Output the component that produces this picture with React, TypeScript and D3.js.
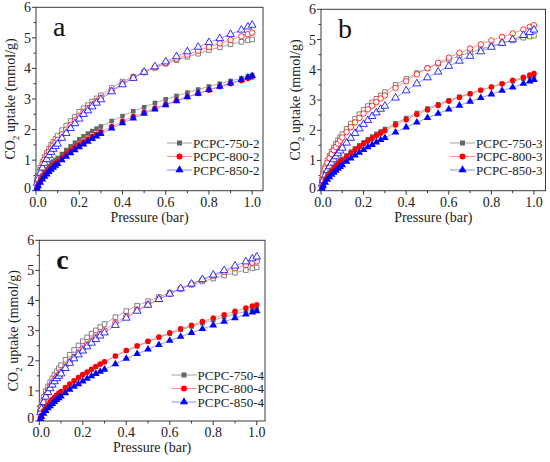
import * as d3 from "d3";

// pressure points (bar), shared by every isotherm
const pressure = [
  0.005, 0.01, 0.02, 0.03, 0.04, 0.05, 0.06, 0.07, 0.08, 0.09, 0.1, 0.12, 0.14, 0.16, 0.18, 0.2,
  0.22, 0.24, 0.26, 0.28, 0.3, 0.35, 0.4, 0.45, 0.5, 0.55, 0.6, 0.65, 0.7, 0.75, 0.8, 0.85, 0.9,
  0.95, 0.98, 1.0,
];

// panel a : upper (open) and lower (filled) isotherms
const a750open = [0.35, 0.5, 0.75, 0.95, 1.1, 1.25, 1.38, 1.5, 1.6, 1.7, 1.8, 1.98, 2.13, 2.28, 2.42, 2.58, 2.7, 2.8, 2.92, 3.02, 3.12, 3.36, 3.57, 3.73, 3.88, 4.02, 4.15, 4.27, 4.38, 4.48, 4.6, 4.69, 4.79, 4.87, 4.92, 4.95];
const a800open = [0.3, 0.45, 0.68, 0.87, 1.02, 1.15, 1.27, 1.38, 1.48, 1.57, 1.66, 1.84, 2.0, 2.15, 2.3, 2.45, 2.58, 2.7, 2.82, 2.93, 3.04, 3.28, 3.5, 3.7, 3.87, 4.03, 4.18, 4.32, 4.45, 4.58, 4.7, 4.82, 4.93, 5.05, 5.12, 5.17];
const a850open = [0.25, 0.38, 0.58, 0.75, 0.9, 1.03, 1.15, 1.26, 1.36, 1.45, 1.53, 1.72, 1.88, 2.04, 2.2, 2.35, 2.5, 2.62, 2.75, 2.87, 2.98, 3.24, 3.47, 3.68, 3.88, 4.06, 4.22, 4.39, 4.55, 4.7, 4.85, 4.98, 5.12, 5.26, 5.36, 5.42];
const a750fill = [0.12, 0.22, 0.38, 0.5, 0.6, 0.7, 0.79, 0.87, 0.95, 1.0, 1.07, 1.2, 1.33, 1.45, 1.57, 1.68, 1.78, 1.87, 1.95, 2.03, 2.1, 2.28, 2.44, 2.6, 2.73, 2.87, 2.99, 3.1, 3.21, 3.31, 3.41, 3.5, 3.59, 3.68, 3.74, 3.78];
const a800fill = [0.1, 0.18, 0.32, 0.42, 0.52, 0.6, 0.68, 0.76, 0.83, 0.89, 0.95, 1.08, 1.2, 1.31, 1.41, 1.51, 1.6, 1.69, 1.77, 1.85, 1.93, 2.1, 2.27, 2.43, 2.57, 2.7, 2.83, 2.95, 3.07, 3.18, 3.29, 3.4, 3.5, 3.6, 3.67, 3.72];
const a850fill = [0.08, 0.15, 0.27, 0.37, 0.46, 0.54, 0.62, 0.69, 0.76, 0.82, 0.88, 1.0, 1.12, 1.23, 1.33, 1.43, 1.52, 1.61, 1.7, 1.78, 1.86, 2.04, 2.21, 2.37, 2.52, 2.66, 2.8, 2.93, 3.06, 3.18, 3.3, 3.41, 3.52, 3.63, 3.71, 3.76];

// panel b
const b750open = [0.38, 0.55, 0.8, 1.0, 1.16, 1.3, 1.43, 1.55, 1.67, 1.77, 1.87, 2.05, 2.22, 2.38, 2.53, 2.67, 2.8, 2.92, 3.04, 3.15, 3.26, 3.5, 3.7, 3.89, 4.05, 4.2, 4.33, 4.46, 4.57, 4.68, 4.78, 4.88, 4.97, 5.06, 5.1, 5.13];
const b800open = [0.33, 0.5, 0.73, 0.92, 1.08, 1.21, 1.34, 1.45, 1.56, 1.66, 1.76, 1.94, 2.1, 2.26, 2.41, 2.55, 2.69, 2.81, 2.93, 3.05, 3.15, 3.4, 3.62, 3.85, 4.05, 4.23, 4.4, 4.56, 4.7, 4.84, 4.97, 5.09, 5.2, 5.33, 5.42, 5.47];
const b850open = [0.22, 0.34, 0.52, 0.67, 0.8, 0.92, 1.03, 1.13, 1.23, 1.32, 1.41, 1.58, 1.74, 1.9, 2.05, 2.2, 2.33, 2.46, 2.58, 2.7, 2.8, 3.07, 3.31, 3.54, 3.74, 3.93, 4.12, 4.29, 4.45, 4.6, 4.75, 4.88, 5.0, 5.14, 5.24, 5.32];
const b750fill = [0.12, 0.22, 0.38, 0.5, 0.6, 0.69, 0.78, 0.86, 0.93, 0.99, 1.05, 1.17, 1.29, 1.4, 1.5, 1.6, 1.7, 1.79, 1.88, 1.96, 2.04, 2.23, 2.4, 2.57, 2.72, 2.86, 2.99, 3.11, 3.22, 3.33, 3.43, 3.53, 3.62, 3.71, 3.77, 3.81];
const b800fill = [0.1, 0.19, 0.33, 0.45, 0.55, 0.64, 0.72, 0.8, 0.87, 0.94, 1.0, 1.12, 1.24, 1.35, 1.45, 1.55, 1.64, 1.73, 1.82, 1.9, 1.98, 2.17, 2.35, 2.52, 2.67, 2.82, 2.96, 3.08, 3.2, 3.32, 3.43, 3.54, 3.65, 3.75, 3.83, 3.88];
const b850fill = [0.08, 0.15, 0.27, 0.37, 0.45, 0.53, 0.6, 0.67, 0.73, 0.79, 0.85, 0.96, 1.07, 1.17, 1.26, 1.35, 1.44, 1.52, 1.6, 1.68, 1.75, 1.93, 2.1, 2.26, 2.41, 2.55, 2.69, 2.82, 2.95, 3.07, 3.19, 3.31, 3.42, 3.54, 3.62, 3.67];

// panel c
const c750open = [0.4, 0.55, 0.8, 0.99, 1.15, 1.29, 1.42, 1.54, 1.65, 1.75, 1.85, 2.03, 2.2, 2.36, 2.51, 2.65, 2.78, 2.9, 3.01, 3.12, 3.22, 3.45, 3.65, 3.83, 3.98, 4.12, 4.26, 4.39, 4.52, 4.63, 4.73, 4.83, 4.92, 5.01, 5.07, 5.1];
const c800open = [0.33, 0.47, 0.7, 0.87, 1.02, 1.15, 1.27, 1.38, 1.48, 1.55, 1.63, 1.81, 1.97, 2.12, 2.27, 2.41, 2.54, 2.67, 2.79, 2.9, 3.01, 3.26, 3.48, 3.69, 3.87, 4.05, 4.22, 4.39, 4.55, 4.69, 4.82, 4.95, 5.07, 5.18, 5.25, 5.3];
const c850open = [0.28, 0.4, 0.62, 0.8, 0.95, 1.08, 1.2, 1.31, 1.41, 1.49, 1.57, 1.75, 1.92, 2.07, 2.2, 2.33, 2.47, 2.59, 2.71, 2.83, 2.93, 3.18, 3.42, 3.65, 3.85, 4.04, 4.22, 4.4, 4.55, 4.7, 4.85, 5.0, 5.15, 5.29, 5.39, 5.45];
const c750fill = [0.1, 0.19, 0.33, 0.44, 0.54, 0.62, 0.7, 0.78, 0.85, 0.91, 0.97, 1.1, 1.22, 1.33, 1.43, 1.53, 1.62, 1.71, 1.8, 1.88, 1.96, 2.15, 2.33, 2.48, 2.63, 2.77, 2.9, 3.03, 3.14, 3.25, 3.35, 3.45, 3.55, 3.64, 3.69, 3.72];
const c800fill = [0.1, 0.19, 0.33, 0.44, 0.54, 0.63, 0.71, 0.79, 0.86, 0.92, 0.98, 1.11, 1.23, 1.34, 1.44, 1.54, 1.63, 1.72, 1.81, 1.89, 1.97, 2.16, 2.34, 2.5, 2.65, 2.79, 2.93, 3.06, 3.18, 3.3, 3.42, 3.53, 3.64, 3.75, 3.82, 3.86];
const c850fill = [0.07, 0.14, 0.25, 0.34, 0.43, 0.5, 0.57, 0.64, 0.7, 0.76, 0.82, 0.93, 1.04, 1.14, 1.23, 1.32, 1.41, 1.49, 1.57, 1.64, 1.71, 1.89, 2.07, 2.23, 2.38, 2.53, 2.67, 2.8, 2.93, 3.06, 3.18, 3.3, 3.42, 3.54, 3.61, 3.65];

const xTicks = [0, 0.2, 0.4, 0.6, 0.8, 1.0];
const yTicks = [0, 1, 2, 3, 4, 5, 6];
const temps = ["750", "800", "850"];

const FONT = "'Liberation Serif', serif";
const markColor = ["#666666", "#ff0000", "#0000ff"];
const lineColor = ["#a0a0a0", "#ff8a8a", "#8a8aff"];
const shapes = [d3.symbolSquare, d3.symbolCircle, d3.symbolTriangle];
const sizes = [21, 24, 25];

type PanelProps = {
  letter: string;
  bold?: boolean;
  suffix: string;
  open: number[][];
  fill: number[][];
  left: number;
  top: number;
  right: number;
  bottom: number;
  xMax: number;
  legend: { x: number; y: number };
};

const Panel = (p: PanelProps) => {
  const x = d3.scaleLinear().domain([0, p.xMax]).range([p.left, p.right]);
  const y = d3.scaleLinear().domain([0, 6]).range([p.bottom, p.top]);
  const line = d3
    .line<number>()
    .x((_, i) => x(pressure[i]))
    .y((d) => y(d));

  const xMinor = d3.range(0.1, p.xMax, 0.2);
  const yMinor = d3.range(0.5, 6, 1);

  const drawSeries = (vals: number[], k: number, hollow: boolean) => (
    <g key={(hollow ? "o" : "f") + k}>
      <path d={line(vals)!} fill="none" stroke={lineColor[k]} strokeWidth={0.9} />
      {vals.map((v, i) => (
        <path
          key={i}
          d={d3.symbol(shapes[k], sizes[k])()!}
          transform={`translate(${x(pressure[i])},${y(v)})`}
          fill={hollow ? "#fff" : markColor[k]}
          stroke={markColor[k]}
          strokeWidth={hollow ? 0.8 : 0}
        />
      ))}
    </g>
  );

  return (
    <g>
      <rect
        x={p.left}
        y={p.top}
        width={p.right - p.left}
        height={p.bottom - p.top}
        fill="none"
        stroke="#3a3a3a"
        strokeWidth={1}
      />
      {xTicks.map((t) => (
        <g key={"xt" + t}>
          <line x1={x(t)} x2={x(t)} y1={p.bottom} y2={p.bottom + 4} stroke="#3a3a3a" />
          <text x={x(t) + (t === 0 ? 2 : 0)} y={p.bottom + 16} textAnchor="middle" fontSize={14} fontFamily={FONT} fill="#222">
            {d3.format(".1f")(t)}
          </text>
        </g>
      ))}
      {xMinor.map((t) => (
        <line key={"xm" + t} x1={x(t)} x2={x(t)} y1={p.bottom} y2={p.bottom + 2.5} stroke="#3a3a3a" />
      ))}
      {yTicks.map((t) => (
        <g key={"yt" + t}>
          <line x1={p.left - 4} x2={p.left} y1={y(t)} y2={y(t)} stroke="#3a3a3a" />
          <text x={p.left - 5} y={y(t) + (t === 0 ? 2 : 5)} textAnchor="end" fontSize={14} fontFamily={FONT} fill="#222">
            {t}
          </text>
        </g>
      ))}
      {yMinor.map((t) => (
        <line key={"ym" + t} x1={p.left - 2.5} x2={p.left} y1={y(t)} y2={y(t)} stroke="#3a3a3a" />
      ))}
      <text
        x={(p.left + p.right) / 2}
        y={p.bottom + 31}
        textAnchor="middle"
        fontSize={14}
        fontFamily={FONT}
        fill="#222"
      >
        Pressure (bar)
      </text>
      <text
        transform={`translate(${p.left - 21},${(p.top + p.bottom) / 2}) rotate(-90)`}
        textAnchor="middle"
        fontSize={14}
        fontFamily={FONT}
        fill="#222"
      >
        CO<tspan fontSize={9} dy={4}>2</tspan>
        <tspan dy={-4}> uptake (mmol/g)</tspan>
      </text>
      <text
        x={p.left + 17}
        y={p.top + 29}
        fontSize={28}
        fontFamily={FONT}
        fontWeight={p.bold ? "bold" : "normal"}
        fill="#111"
      >
        {p.letter}
      </text>
      {p.open.map((vals, k) => drawSeries(vals, k, true))}
      {p.fill.map((vals, k) => drawSeries(vals, k, false))}
      {temps.map((t, k) => {
        const ly = p.legend.y + k * 13.5;
        return (
          <g key={"lg" + t}>
            <line x1={p.legend.x} x2={p.legend.x + 25} y1={ly} y2={ly} stroke={lineColor[k]} strokeWidth={1} />
            <path
              d={d3.symbol(shapes[k], sizes[k] + 4)()!}
              transform={`translate(${p.legend.x + 12.5},${ly})`}
              fill={markColor[k]}
            />
            <text x={p.legend.x + 26} y={ly + 4.5} fontSize={13} fontFamily={FONT} fill="#222">
              {`PCPC-${t}-${p.suffix}`}
            </text>
          </g>
        );
      })}
    </g>
  );
};

export default function App() {
  return (
    <svg
      width={550}
      height={462}
      style={{ position: "absolute", left: 0, top: 0, background: "#fff" }}
    >
      <Panel
        letter="a"
        suffix="2"
        open={[a750open, a800open, a850open]}
        fill={[a750fill, a800fill, a850fill]}
        left={36}
        top={7.3}
        right={263}
        bottom={190.7}
        xMax={1.05}
        legend={{ x: 167, y: 143 }}
      />
      <Panel
        letter="b"
        suffix="3"
        open={[b750open, b800open, b850open]}
        fill={[b750fill, b800fill, b850fill]}
        left={321}
        top={9.3}
        right={545.5}
        bottom={190.7}
        xMax={1.054}
        legend={{ x: 450, y: 143 }}
      />
      <Panel
        letter="c"
        bold
        suffix="4"
        open={[c750open, c800open, c850open]}
        fill={[c750fill, c800fill, c850fill]}
        left={39.3}
        top={240.3}
        right={265}
        bottom={421}
        xMax={1.038}
        legend={{ x: 171.5, y: 375 }}
      />
    </svg>
  );
}
